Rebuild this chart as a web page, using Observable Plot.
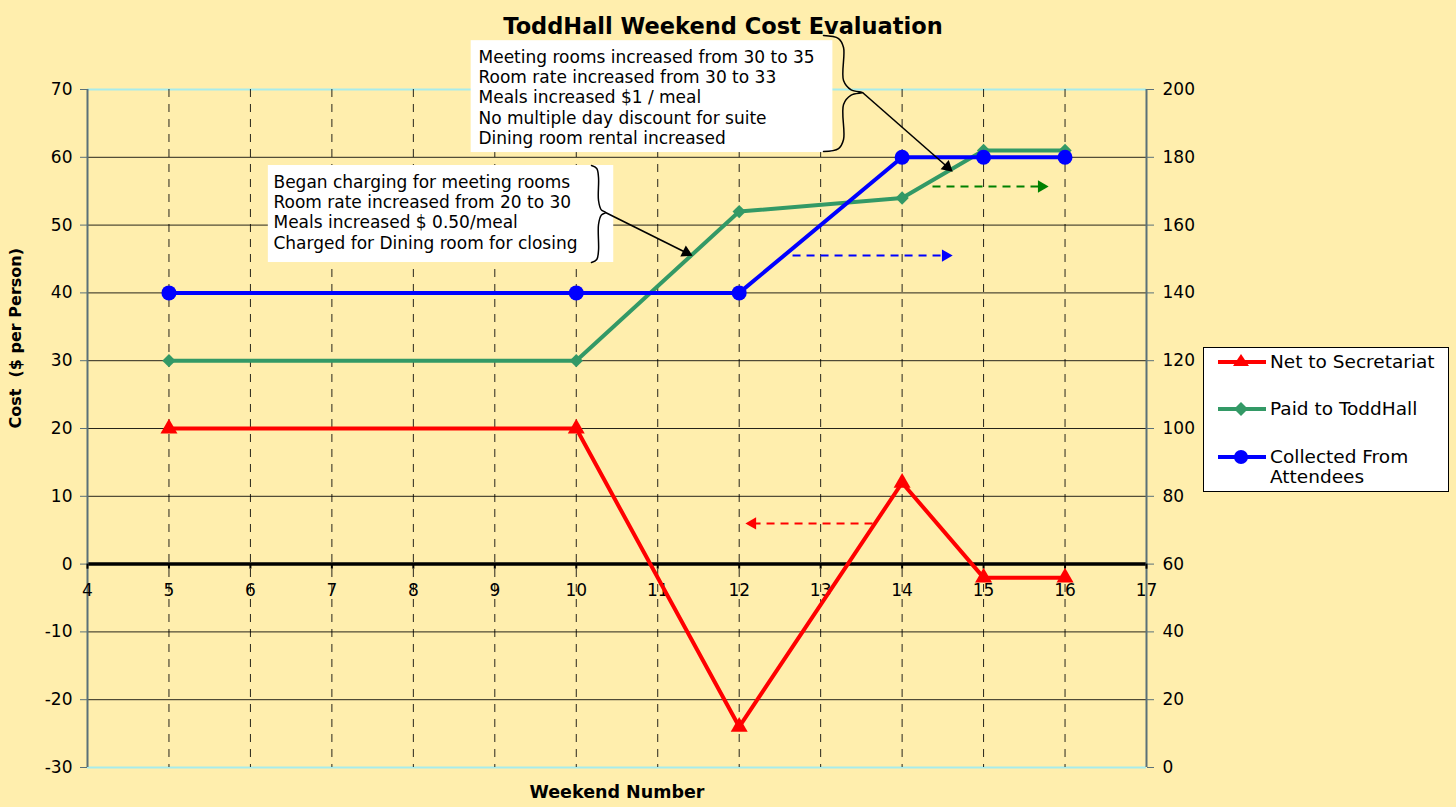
<!DOCTYPE html>
<html><head><meta charset="utf-8">
<script src="https://cdn.jsdelivr.net/npm/d3@7"></script>
<script src="https://cdn.jsdelivr.net/npm/@observablehq/plot@0.6"></script>
<style>
html,body{margin:0;padding:0;background:#FFEEAD;}
#wrap{position:relative;width:1456px;height:807px;font-family:"DejaVu Sans",sans-serif;}
#legend{position:absolute;left:1203px;top:347px;width:246px;height:145px;background:#fff;border:1.5px solid #000;box-sizing:border-box;}
.lrow{position:absolute;left:0;width:244px;}
.lrow svg{position:absolute;left:13px;}
.lrow span{position:absolute;left:66px;font-size:18.5px;line-height:20px;color:#000;white-space:nowrap;}
</style></head>
<body><div id="wrap"><div id="chart"></div><div id="legend"></div></div>
<script>
// ---- data ----
const weekends = [5, 10, 12, 14, 15, 16];
const netToSecretariat = [20, 20, -24, 12, -2, -2];          // left axis ($ per person)
const paidToToddHall = [120, 120, 164, 168, 182, 182];        // right axis
const collectedFromAttendees = [140, 140, 140, 180, 180, 180];// right axis
const xTicks = [4, 5, 6, 7, 8, 9, 10, 11, 12, 13, 14, 15, 16, 17];
const leftTicks = [-30, -20, -10, 0, 10, 20, 30, 40, 50, 60, 70];
const rightTicks = [0, 20, 40, 60, 80, 100, 120, 140, 160, 180, 200];
const seriesNames = ["Net to Secretariat", "Paid to ToddHall", "Collected From Attendees"];
const seriesColors = ["#FF0000", "#339966", "#0000FF"];
const note1 = ["Meeting rooms increased from 30 to 35", "Room rate increased from 30 to 33", "Meals increased $1 / meal", "No multiple day discount for suite", "Dining room rental increased"];
const note2 = ["Began charging for meeting rooms", "Room rate increased from 20 to 30", "Meals increased $ 0.50/meal", "Charged for Dining room for closing"];
const title = "ToddHall Weekend Cost Evaluation";
const xLabel = "Weekend Number";
const yLabel = "Cost  ($ per Person)";

// ---- helpers ----
const toLeft = r => (r - 60) / 2;
const W = 1456, H = 807, mL = 87, mR = 310, mT = 89, mB = 40;
const kx = (W - mL - mR) / 13, ky = (H - mT - mB) / 100; // px per data unit

const rows = (ys) => weekends.map((w, i) => ({x: w, y: ys[i]}));
const net = rows(netToSecretariat);
const paid = rows(paidToToddHall.map(toLeft));
const coll = rows(collectedFromAttendees.map(toLeft));

// annotation geometry (data units)
const boxes = [
  {x1: 8.71, x2: 13.15, y1: 60.7, y2: 77.2},
  {x1: 6.22, x2: 10.46, y1: 44.48, y2: 58.79}
];
const notes = [
  {x: 8.80, y: 76.05, text: note1.join("\n")},
  {x: 6.283, y: 57.6, text: note2.join("\n")}
];
const braces = [
  {ex: 13.035, sx: 13.281, tx: 13.514, top: 77.96, bot: 60.85, mid: 69.56},
  {ex: 10.187, sx: 10.273, tx: 10.359, top: 58.79, bot: 44.48, mid: 51.86}
];
const arrows = [
  {x1: 13.514, y1: 69.56, x2: 14.62, y2: 57.9, color: "#000", dashed: false},
  {x1: 10.359, y1: 51.86, x2: 11.427, y2: 45.48, color: "#000", dashed: false},
  {x1: 14.373, y1: 55.7, x2: 15.797, y2: 55.7, color: "#008000", dashed: true},
  {x1: 12.655, y1: 45.5, x2: 14.619, y2: 45.5, color: "#0000FF", dashed: true},
  {x1: 13.637, y1: 6.0, x2: 12.078, y2: 6.0, color: "#FF0000", dashed: true}
];

function bracePoints(b) {
  const ry = 12 / ky;
  return [
    [b.ex, b.top],
    [b.ex + (b.sx - b.ex) * 0.75, b.top - 0.25 * ry],
    [b.sx, b.top - ry],
    [b.sx, b.mid + ry],
    [b.sx + (b.tx - b.sx) * 0.4, b.mid + 0.22 * ry],
    [b.tx, b.mid],
    [b.sx + (b.tx - b.sx) * 0.4, b.mid - 0.22 * ry],
    [b.sx, b.mid - ry],
    [b.sx, b.bot + ry],
    [b.ex + (b.sx - b.ex) * 0.75, b.bot + 0.25 * ry],
    [b.ex, b.bot]
  ];
}
function arrowGeom(a) {
  const dxp = (a.x2 - a.x1) * kx, dyp = -(a.y2 - a.y1) * ky;
  const L = Math.hypot(dxp, dyp), ux = dxp / L, uy = dyp / L;
  return {
    ...a,
    sx2: a.x2 - ux * 8 / kx, sy2: a.y2 + uy * 8 / ky,
    hx: a.x2 - ux * 7 / kx, hy: a.y2 + uy * 7 / ky,
    rot: Math.atan2(ux, -uy) * 180 / Math.PI
  };
}
const ag = arrows.map(arrowGeom);

const FONT = "'DejaVu Sans', sans-serif";
const marks = [
  // grid
  Plot.ruleY(leftTicks.filter(d => d !== 0 && d !== -30 && d !== 70), {stroke: "#000", strokeWidth: 1, strokeOpacity: 0.85}),
  Plot.ruleY([-30, 70], {stroke: "#A8ECEC", strokeWidth: 2}),
  Plot.ruleX(xTicks.filter(d => d > 4 && d < 17), {stroke: "#000", strokeWidth: 1, strokeDasharray: "8,7", strokeOpacity: 0.85}),
  Plot.ruleY([0], {stroke: "#000", strokeWidth: 3.5}),
  Plot.ruleX([4, 17], {stroke: "#5A7078", strokeWidth: 2}),
  // axes
  Plot.axisY(leftTicks, {anchor: "left", tickSize: 7, tickPadding: 8, label: null, fontSize: 17, stroke: "#5A7078", tickFormat: d => String(d)}),
  Plot.axisY(rightTicks.map(toLeft), {anchor: "right", tickSize: 7, tickPadding: 9, label: null, fontSize: 17, tickFormat: d => String(Math.round(d * 2 + 60)), stroke: "#5A7078"}),
  Plot.ruleX(xTicks, {x: d => d, y1: 0, y2: -0.75, stroke: "#000", strokeWidth: 2}),
  Plot.text(xTicks, {x: d => d, y: 0, dy: 26, text: d => String(d), fontSize: 17, fill: "#000"}),
  // labels
  Plot.text([title], {frameAnchor: "top", dx: 106, dy: -71, fontSize: 22.5, fontWeight: "bold", fill: "#000"}),
  Plot.text([xLabel], {frameAnchor: "bottom", dy: 30, fontSize: 17.5, fontWeight: "bold", fill: "#000"}),
  Plot.text([yLabel], {frameAnchor: "left", dx: -72, rotate: -90, fontSize: 16, fontWeight: "bold", fill: "#000"}),
  // series
  Plot.line(net, {x: "x", y: "y", stroke: seriesColors[0], strokeWidth: 4}),
  Plot.dot(net, {x: "x", y: "y", symbol: "triangle", r: 6.3, fill: seriesColors[0], stroke: "none"}),
  Plot.line(paid, {x: "x", y: "y", stroke: seriesColors[1], strokeWidth: 4}),
  Plot.dot(paid, {x: "x", y: "y", symbol: "diamond2", r: 6, fill: seriesColors[1], stroke: "none"}),
  Plot.line(coll, {x: "x", y: "y", stroke: seriesColors[2], strokeWidth: 4}),
  Plot.dot(coll, {x: "x", y: "y", symbol: "circle", r: 7.5, fill: seriesColors[2], stroke: "none"}),
  // annotations
  Plot.rect(boxes, {x1: "x1", x2: "x2", y1: "y1", y2: "y2", fill: "#fff"}),
  Plot.text(notes, {x: "x", y: "y", text: "text", textAnchor: "start", lineAnchor: "top", lineHeight: 1.19, fontSize: 17, fill: "#000"}),
  ...braces.map(b => Plot.line(bracePoints(b), {x: d => d[0], y: d => d[1], curve: "catmull-rom", stroke: "#000", strokeWidth: 1.5})),
  Plot.link(ag.filter(a => !a.dashed), {x1: "x1", y1: "y1", x2: "sx2", y2: "sy2", stroke: "color", strokeWidth: 1.6}),
  Plot.link(ag.filter(a => a.dashed), {x1: "x1", y1: "y1", x2: "sx2", y2: "sy2", stroke: "color", strokeWidth: 2, strokeDasharray: "8,6"}),
  Plot.dot(ag, {x: "hx", y: "hy", symbol: "triangle", r: 4.6, rotate: "rot", fill: "color", stroke: "none"})
];

const chart = Plot.plot({
  width: W, height: H,
  marginLeft: mL, marginRight: mR, marginTop: mT, marginBottom: mB,
  x: {domain: [4, 17], axis: null},
  y: {domain: [-30, 70], axis: null},
  color: {type: "identity"},
  style: {background: "#FFEEAD", fontFamily: FONT, fontSize: "17px", color: "#000", overflow: "visible"},
  marks
});
document.getElementById("chart").appendChild(chart);

// legend
const legend = document.getElementById("legend");
const rowTops = [4, 51, 99];
const symbolsSvg = [
  c => `<polygon points="24,2 32,14 16,14" fill="${c}"/>`,
  c => `<polygon points="24,3 31,10 24,17 17,10" fill="${c}"/>`,
  c => `<circle cx="24" cy="10" r="7" fill="${c}"/>`
];
seriesNames.forEach((name, i) => {
  const row = document.createElement("div");
  row.className = "lrow";
  row.style.top = rowTops[i] + "px";
  const parts = name === "Collected From Attendees" ? "Collected From<br>Attendees" : name;
  row.innerHTML = `<svg width="50" height="20" viewBox="0 0 50 20"><line x1="1" y1="10" x2="49" y2="10" stroke="${seriesColors[i]}" stroke-width="4"/>${symbolsSvg[i](seriesColors[i])}</svg><span>${parts}</span>`;
  legend.appendChild(row);
});
</script>
</body></html>
